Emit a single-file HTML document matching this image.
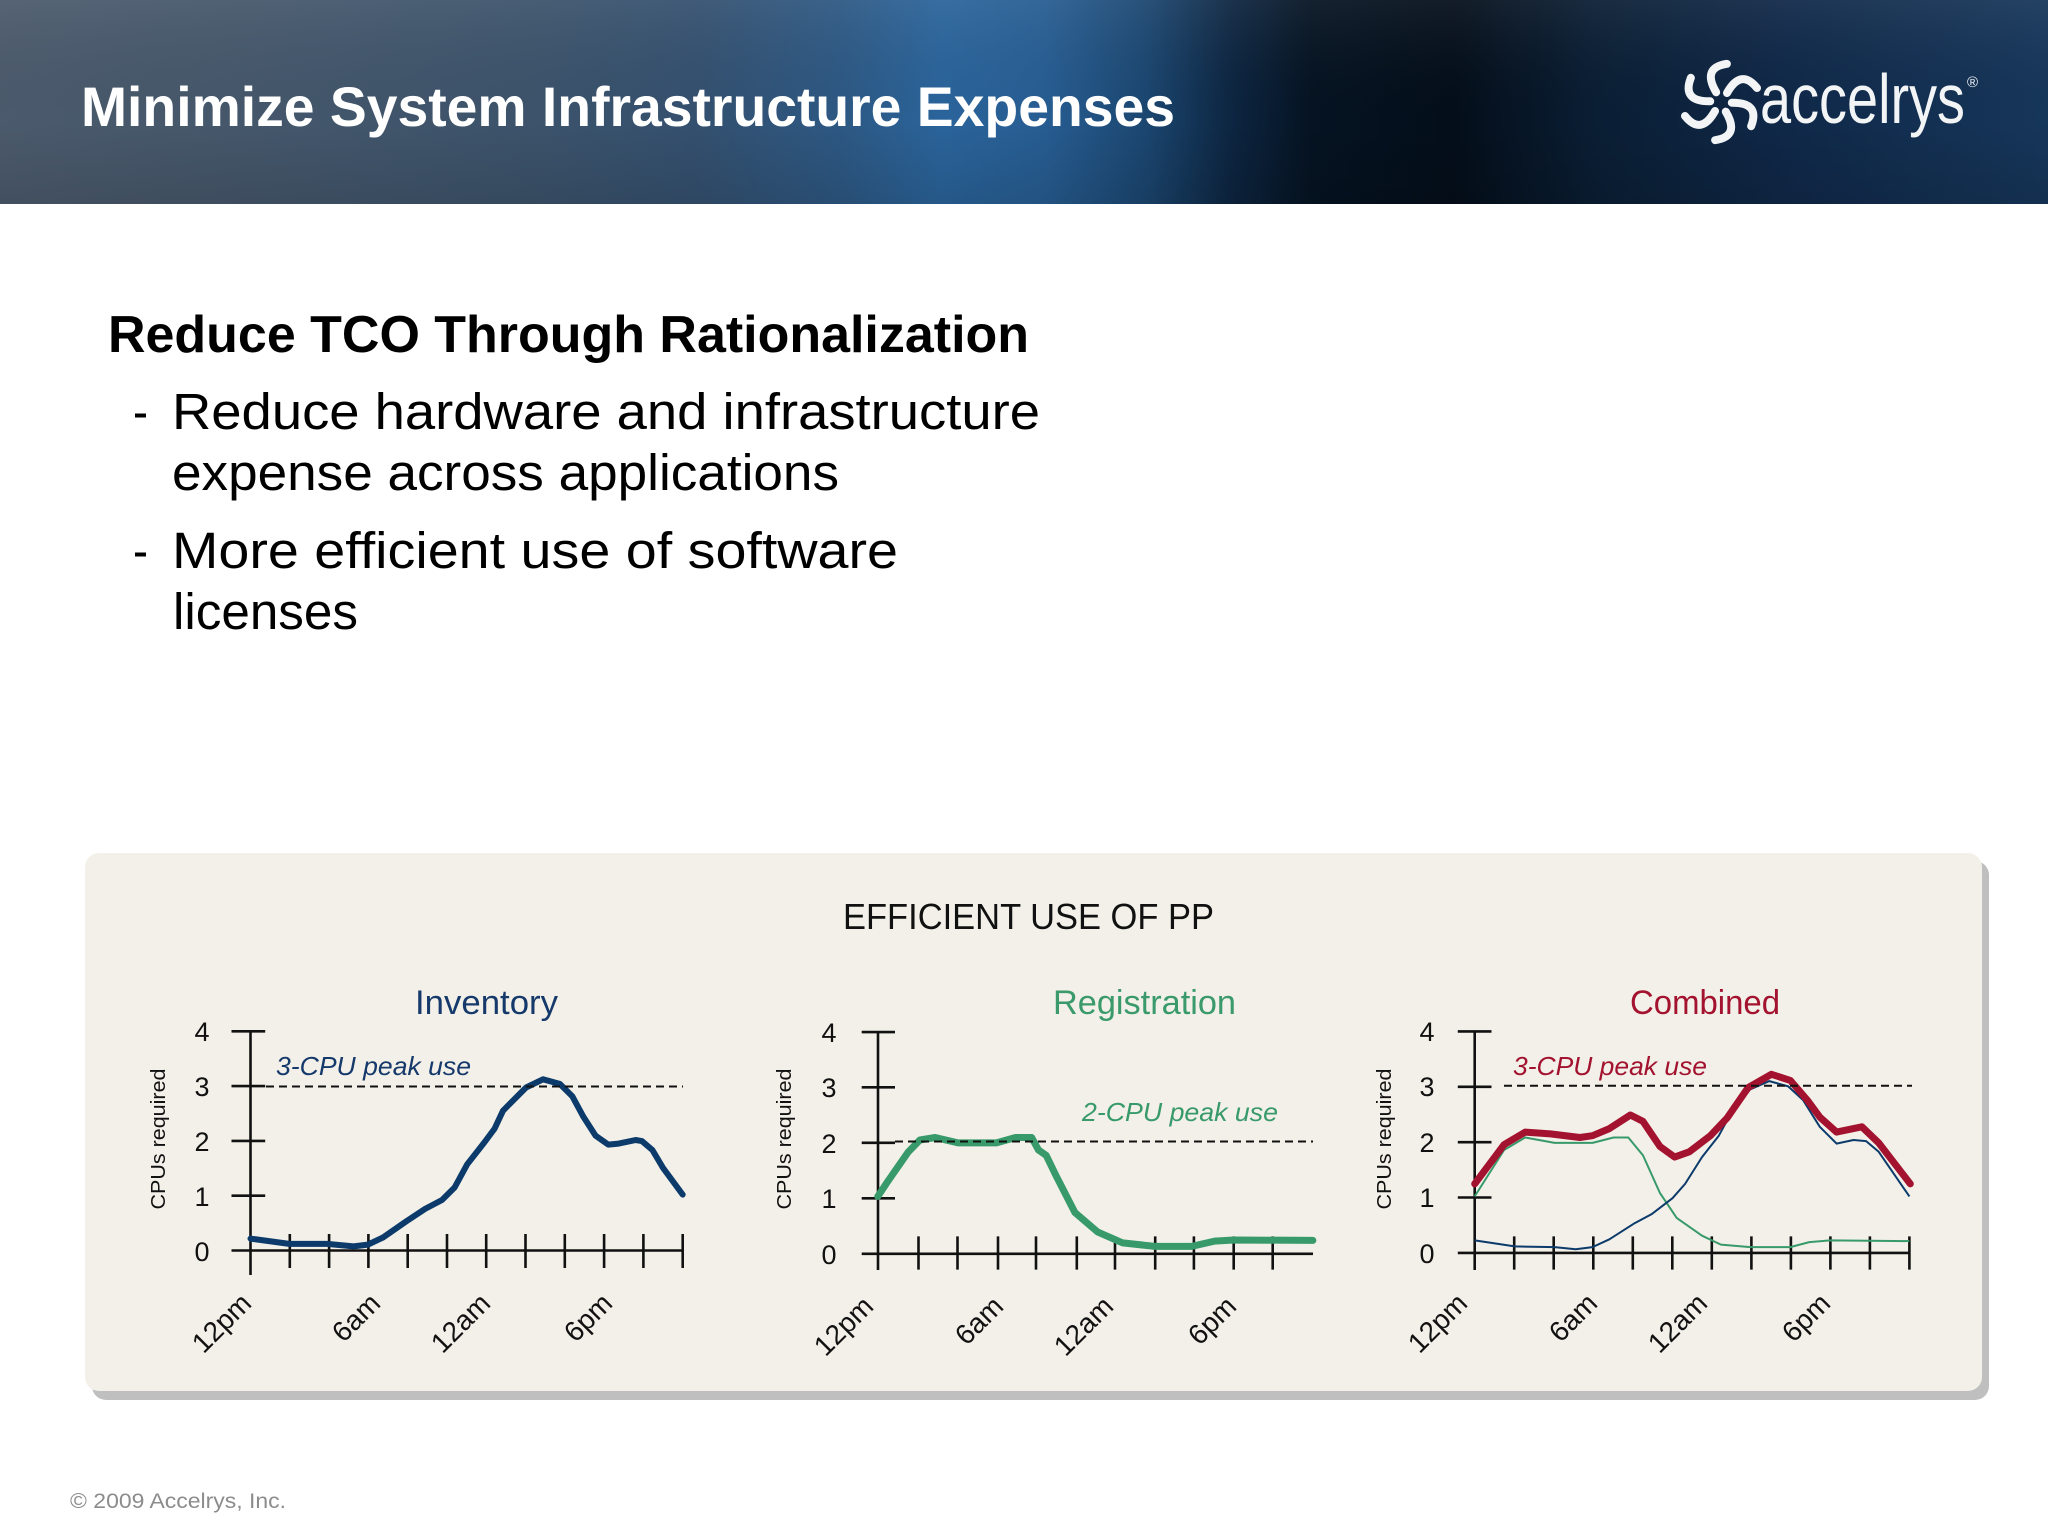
<!DOCTYPE html>
<html><head><meta charset="utf-8"><style>
html,body{margin:0;padding:0;background:#fff;}
svg{display:block;}
text{font-family:"Liberation Sans",sans-serif;}
</style></head><body>
<svg width="2048" height="1536" viewBox="0 0 2048 1536" xmlns="http://www.w3.org/2000/svg">
<defs>
<linearGradient id="hdr" x1="0" y1="0" x2="1" y2="0">
<stop offset="0" stop-color="#4b5a6c"/>
<stop offset="0.12" stop-color="#45576b"/>
<stop offset="0.26" stop-color="#3c536b"/>
<stop offset="0.34" stop-color="#34506f"/>
<stop offset="0.41" stop-color="#2d5883"/>
<stop offset="0.46" stop-color="#2a649b"/>
<stop offset="0.51" stop-color="#275d92"/>
<stop offset="0.56" stop-color="#1b4670"/>
<stop offset="0.60" stop-color="#0d2642"/>
<stop offset="0.64" stop-color="#051322"/>
<stop offset="0.71" stop-color="#040e1a"/>
<stop offset="0.78" stop-color="#0a1e34"/>
<stop offset="0.88" stop-color="#10294a"/>
<stop offset="1" stop-color="#16365a"/>
</linearGradient>
<linearGradient id="hdrv" x1="0" y1="0" x2="0" y2="1">
<stop offset="0" stop-color="#ffffff" stop-opacity="0.06"/>
<stop offset="0.6" stop-color="#000000" stop-opacity="0"/>
<stop offset="1" stop-color="#000000" stop-opacity="0.12"/>
</linearGradient>
</defs>

<!-- header -->
<rect x="0" y="0" width="2048" height="204" fill="url(#hdr)"/>
<rect x="0" y="0" width="2048" height="204" fill="url(#hdrv)"/>
<text x="81" y="126" font-size="56" font-weight="bold" fill="#ffffff" textLength="1094" lengthAdjust="spacingAndGlyphs">Minimize System Infrastructure Expenses</text>

<!-- logo swirl -->
<g transform="translate(1721,102)" fill="none" stroke="#f2f4f6" stroke-width="8" stroke-linecap="round">
<path d="M 6 -9 Q 20 -34 36 -14"/>
<path d="M 6 -9 Q 20 -34 36 -14" transform="rotate(60)"/>
<path d="M 6 -9 Q 20 -34 36 -14" transform="rotate(120)"/>
<path d="M 6 -9 Q 20 -34 36 -14" transform="rotate(180)"/>
<path d="M 6 -9 Q 20 -34 36 -14" transform="rotate(240)"/>
<path d="M 6 -9 Q 20 -34 36 -14" transform="rotate(300)"/>
</g>
<text x="1760" y="123" font-size="70" fill="#f2f4f6" textLength="205" lengthAdjust="spacingAndGlyphs">accelrys</text>
<text x="1967" y="87" font-size="15" fill="#f2f4f6">®</text>

<!-- body text -->
<text x="108" y="352" font-size="52" font-weight="bold" fill="#000" textLength="921" lengthAdjust="spacingAndGlyphs">Reduce TCO Through Rationalization</text>
<text x="133" y="429" font-size="51" fill="#000" textLength="15" lengthAdjust="spacingAndGlyphs">-</text>
<text x="172" y="429" font-size="51" fill="#000" textLength="868" lengthAdjust="spacingAndGlyphs">Reduce hardware and infrastructure</text>
<text x="172" y="490" font-size="51" fill="#000" textLength="667" lengthAdjust="spacingAndGlyphs">expense across applications</text>
<text x="133" y="568" font-size="51" fill="#000" textLength="15" lengthAdjust="spacingAndGlyphs">-</text>
<text x="172" y="568" font-size="51" fill="#000" textLength="726" lengthAdjust="spacingAndGlyphs">More efficient use of software</text>
<text x="173" y="629" font-size="51" fill="#000" textLength="185" lengthAdjust="spacingAndGlyphs">licenses</text>

<!-- panel -->
<rect x="92" y="861" width="1897" height="539" rx="14" fill="#bfbfbf"/>
<rect x="85" y="853" width="1897" height="538" rx="14" fill="#f2f0e8"/>

<text x="843" y="929" font-size="36" fill="#111" textLength="371" lengthAdjust="spacingAndGlyphs">EFFICIENT USE OF PP</text>

<!-- ============ Inventory ============ -->
<text x="415" y="1014" font-size="34" fill="#16396b" textLength="143" lengthAdjust="spacingAndGlyphs">Inventory</text>
<g stroke="#111" stroke-width="2.6" fill="none">
<line x1="250.5" y1="1031" x2="250.5" y2="1275"/>
<line x1="231.5" y1="1250.5" x2="682.7" y2="1250.5"/>
<line x1="231.5" y1="1031.3" x2="265.2" y2="1031.3"/>
<line x1="231.5" y1="1086.1" x2="265.2" y2="1086.1"/>
<line x1="231.5" y1="1140.9" x2="265.2" y2="1140.9"/>
<line x1="231.5" y1="1195.7" x2="265.2" y2="1195.7"/>
<path d="M289.8 1234V1268M329.1 1234V1268M368.4 1234V1268M407.7 1234V1268M447 1234V1268M486.2 1234V1268M525.5 1234V1268M564.8 1234V1268M604.1 1234V1268M643.4 1234V1268M682.7 1234V1268"/>
</g>
<g font-size="27" fill="#111" text-anchor="middle">
<text x="202" y="1041">4</text><text x="202" y="1096">3</text><text x="202" y="1151">2</text><text x="202" y="1206">1</text><text x="202" y="1261">0</text>
</g>
<text transform="translate(165,1139) rotate(-90)" font-size="20" fill="#111" text-anchor="middle" textLength="141" lengthAdjust="spacingAndGlyphs">CPUs required</text>
<g font-size="28" fill="#111" text-anchor="end">
<text transform="translate(253,1305) rotate(-45)">12pm</text>
<text transform="translate(382,1305) rotate(-45)">6am</text>
<text transform="translate(492,1305) rotate(-45)">12am</text>
<text transform="translate(614,1305) rotate(-45)">6pm</text>
</g>
<polyline fill="none" stroke="#0b3a6b" stroke-width="6" stroke-linejoin="round" stroke-linecap="round" points="250.5,1238.6 289.2,1243.9 327.1,1243.9 353.6,1246.4 367.9,1244.6 383,1237.5 406.2,1221.4 425.1,1208.9 442,1200 454.6,1187.5 467.2,1164.3 484,1142.9 494.6,1128.6 503,1110.7 526.1,1087.5 543,1079.3 559.8,1083.9 572.4,1096.4 583,1116.1 595.6,1135.7 608.2,1144.6 618.7,1143.6 635.6,1140 641.9,1141.1 652.4,1150 663,1167.9 682.7,1194.6"/>
<line x1="266" y1="1086.5" x2="683" y2="1086.5" stroke="#111" stroke-width="2" stroke-dasharray="8 5"/>
<text x="276" y="1075" font-size="26" font-style="italic" fill="#16396b" textLength="195" lengthAdjust="spacingAndGlyphs">3-CPU peak use</text>

<!-- ============ Registration ============ -->
<text x="1053" y="1014" font-size="34" fill="#3a9a6c" textLength="183" lengthAdjust="spacingAndGlyphs">Registration</text>
<g stroke="#111" stroke-width="2.6" fill="none">
<line x1="878" y1="1032" x2="878" y2="1270"/>
<line x1="861.7" y1="1253.8" x2="1313" y2="1253.8"/>
<line x1="861.7" y1="1032.1" x2="895" y2="1032.1"/>
<line x1="861.7" y1="1087.3" x2="895" y2="1087.3"/>
<line x1="861.7" y1="1142.8" x2="895" y2="1142.8"/>
<line x1="861.7" y1="1198.3" x2="895" y2="1198.3"/>
<path d="M918.5 1236.4V1269.6M957.5 1236.4V1269.6M998 1236.4V1269.6M1036 1236.4V1269.6M1076.8 1236.4V1269.6M1115 1236.4V1269.6M1155.2 1236.4V1269.6M1193.9 1236.4V1269.6M1233.7 1236.4V1269.6M1272.7 1236.4V1269.6"/>
</g>
<g font-size="27" fill="#111" text-anchor="middle">
<text x="829" y="1042">4</text><text x="829" y="1097">3</text><text x="829" y="1153">2</text><text x="829" y="1208">1</text><text x="829" y="1264">0</text>
</g>
<text transform="translate(791,1139) rotate(-90)" font-size="20" fill="#111" text-anchor="middle" textLength="141" lengthAdjust="spacingAndGlyphs">CPUs required</text>
<g font-size="28" fill="#111" text-anchor="end">
<text transform="translate(875,1308) rotate(-45)">12pm</text>
<text transform="translate(1005,1308) rotate(-45)">6am</text>
<text transform="translate(1115,1308) rotate(-45)">12am</text>
<text transform="translate(1238,1308) rotate(-45)">6pm</text>
</g>
<polyline fill="none" stroke="#389a6b" stroke-width="7" stroke-linejoin="round" stroke-linecap="round" points="877.8,1196.4 887.3,1182.1 908.4,1151.8 919.9,1140 935.2,1137.5 958.1,1142.9 996.4,1142.9 1015.5,1137.5 1031.6,1137.5 1038.5,1150 1046.2,1155.4 1055.7,1175 1074.9,1212.5 1097.8,1232.1 1122.7,1242.9 1155.2,1246.4 1191.6,1246.4 1214.6,1241.1 1233.7,1240 1312.9,1240.4"/>
<line x1="895" y1="1141.5" x2="1313" y2="1141.5" stroke="#111" stroke-width="2" stroke-dasharray="8 5"/>
<text x="1082" y="1121" font-size="26" font-style="italic" fill="#389a6b" textLength="196" lengthAdjust="spacingAndGlyphs">2-CPU peak use</text>

<!-- ============ Combined ============ -->
<text x="1630" y="1014" font-size="34" fill="#a3122e" textLength="150" lengthAdjust="spacingAndGlyphs">Combined</text>
<g stroke="#111" stroke-width="2.6" fill="none">
<line x1="1474.7" y1="1031" x2="1474.7" y2="1270"/>
<line x1="1457.8" y1="1252.9" x2="1909.4" y2="1252.9"/>
<line x1="1457.8" y1="1031.4" x2="1491.5" y2="1031.4"/>
<line x1="1457.8" y1="1086.8" x2="1491.5" y2="1086.8"/>
<line x1="1457.8" y1="1142.2" x2="1491.5" y2="1142.2"/>
<line x1="1457.8" y1="1197.5" x2="1491.5" y2="1197.5"/>
<path d="M1514.2 1236.4V1269.6M1553.7 1236.4V1269.6M1593.3 1236.4V1269.6M1632.8 1236.4V1269.6M1672.3 1236.4V1269.6M1711.8 1236.4V1269.6M1751.4 1236.4V1269.6M1790.9 1236.4V1269.6M1830.4 1236.4V1269.6M1869.9 1236.4V1269.6M1909.4 1236.4V1269.6"/>
</g>
<g font-size="27" fill="#111" text-anchor="middle">
<text x="1427" y="1041">4</text><text x="1427" y="1096">3</text><text x="1427" y="1152">2</text><text x="1427" y="1207">1</text><text x="1427" y="1263">0</text>
</g>
<text transform="translate(1391,1139) rotate(-90)" font-size="20" fill="#111" text-anchor="middle" textLength="141" lengthAdjust="spacingAndGlyphs">CPUs required</text>
<g font-size="28" fill="#111" text-anchor="end">
<text transform="translate(1469,1305) rotate(-45)">12pm</text>
<text transform="translate(1599,1305) rotate(-45)">6am</text>
<text transform="translate(1709,1305) rotate(-45)">12am</text>
<text transform="translate(1832,1305) rotate(-45)">6pm</text>
</g>
<polyline fill="none" stroke="#389a6b" stroke-width="2" stroke-linejoin="round" points="1474.7,1196.4 1504.1,1150 1525.2,1137.5 1554.6,1142.9 1592.5,1142.9 1613.6,1137.5 1628.3,1137.5 1643,1155.4 1659.9,1192.9 1676.7,1217.9 1702,1235.7 1720.9,1244.6 1750.3,1247.1 1790.3,1247.1 1809.3,1242.1 1830.3,1240.4 1909.4,1241.1"/>
<polyline fill="none" stroke="#0b3a6b" stroke-width="2" stroke-linejoin="round" points="1474.7,1240.4 1514.7,1246.4 1554.6,1247.1 1575.7,1249.3 1592.5,1247.1 1609.4,1239.3 1634.6,1223.2 1651.4,1214.3 1672.5,1198.2 1685.1,1183.9 1702,1157.1 1718.8,1135.7 1731.4,1112.5 1750.3,1089.3 1769.3,1081.1 1788.2,1086.4 1803,1100 1819.8,1126.8 1836.6,1143.6 1853.5,1140 1866.1,1141.1 1878.7,1151.8 1909.4,1196.4"/>
<polyline fill="none" stroke="#a3122e" stroke-width="7" stroke-linejoin="round" stroke-linecap="round" points="1474.7,1183.9 1504.1,1144.6 1525.2,1132.1 1550.4,1133.9 1579.9,1137.5 1592.5,1135.7 1609.4,1128.6 1630.4,1115 1643,1121.4 1659.9,1146.4 1674.6,1157.1 1689.3,1151.8 1710.4,1135.7 1727.2,1117.9 1748.2,1087.5 1771.4,1074.3 1790.3,1080.4 1807.2,1100 1819.8,1117.1 1836.6,1132.1 1861.9,1126.8 1878.7,1142.9 1910.3,1183.9"/>
<line x1="1504" y1="1085.7" x2="1912" y2="1085.7" stroke="#111" stroke-width="2" stroke-dasharray="8 5"/>
<text x="1513" y="1075" font-size="26" font-style="italic" fill="#a3122e" textLength="194" lengthAdjust="spacingAndGlyphs">3-CPU peak use</text>

<!-- footer -->
<text x="70" y="1508" font-size="21.5" fill="#8c8c8c" textLength="216" lengthAdjust="spacingAndGlyphs">© 2009 Accelrys, Inc.</text>
</svg>
</body></html>
